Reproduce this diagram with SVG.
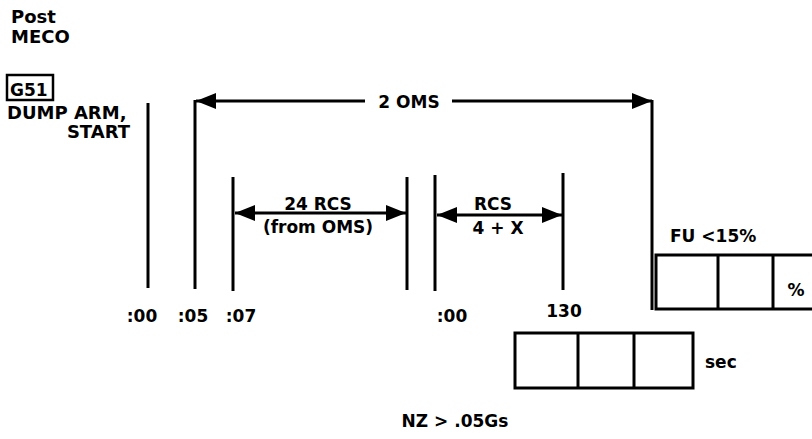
<svg xmlns="http://www.w3.org/2000/svg" width="812" height="439" viewBox="0 0 812 439">
<style>
  text { font-family: "DejaVu Sans", "Liberation Sans", sans-serif; font-weight: bold; font-size: 17px; fill: #000; }
  .big { font-size: 18px; }
  .ln { stroke: #000; stroke-width: 3; fill: none; }
  .box { stroke: #000; stroke-width: 3; fill: #fff; }
  .mid { text-anchor: middle; }
  .end { text-anchor: end; }
</style>
<defs>
  <marker id="ah" markerUnits="userSpaceOnUse" markerWidth="22" markerHeight="16" refX="20" refY="8" orient="auto">
    <path d="M0,0 L20,8 L0,16 Z" fill="#000"/>
  </marker>
</defs>
<rect width="812" height="439" fill="#fff"/>

<g id="header">
  <text x="11" y="23" class="big">Post</text>
  <text x="11" y="43" class="big">MECO</text>
</g>
<g id="g51">
  <rect x="7" y="75" width="46" height="25" fill="none" stroke="#000" stroke-width="2.5"/>
  <text x="10" y="96">G51</text>
  <text x="7" y="119" class="big">DUMP ARM,</text>
  <text x="130" y="138" class="big end">START</text>
</g>

<g id="ticks">
  <line class="ln" x1="148" y1="103" x2="148" y2="288"/>
  <line class="ln" x1="195" y1="100" x2="195" y2="289"/>
  <line class="ln" x1="233" y1="177" x2="233" y2="291"/>
  <line class="ln" x1="407" y1="177" x2="407" y2="290"/>
  <line class="ln" x1="435" y1="175" x2="435" y2="291"/>
  <line class="ln" x1="563" y1="173" x2="563" y2="290"/>
  <line class="ln" x1="652" y1="100" x2="652" y2="310"/>
</g>

<g id="connectors">
  <line class="ln" x1="365" y1="101" x2="196" y2="101" marker-end="url(#ah)"/>
  <line class="ln" x1="452" y1="101" x2="652" y2="101" marker-end="url(#ah)"/>
  <line class="ln" x1="318" y1="213" x2="235" y2="213" marker-end="url(#ah)"/>
  <line class="ln" x1="318" y1="213" x2="406" y2="213" marker-end="url(#ah)"/>
  <line class="ln" x1="498" y1="215" x2="437" y2="215" marker-end="url(#ah)"/>
  <line class="ln" x1="498" y1="215" x2="562" y2="215" marker-end="url(#ah)"/>
</g>

<g id="labels">
  <text x="409" y="108" class="mid">2 OMS</text>
  <text x="318" y="210" class="mid">24 RCS</text>
  <text x="318" y="233" class="mid">(from OMS)</text>
  <text x="493" y="210" class="mid">RCS</text>
  <text x="498" y="234" class="mid">4 + X</text>
  <text x="142" y="322" class="mid">:00</text>
  <text x="193" y="322" class="mid">:05</text>
  <text x="241" y="322" class="mid">:07</text>
  <text x="452" y="322" class="mid">:00</text>
  <text x="564" y="317" class="mid">130</text>
  <text x="455" y="427" class="mid">NZ &gt; .05Gs</text>
</g>

<g id="fu-box">
  <text x="670" y="242">FU &lt;15%</text>
  <rect class="box" x="656" y="255" width="160" height="54"/>
  <line class="ln" x1="718" y1="255" x2="718" y2="309"/>
  <line class="ln" x1="773" y1="255" x2="773" y2="309"/>
  <text x="796" y="296" class="mid">%</text>
</g>

<g id="sec-box">
  <rect class="box" x="515" y="333" width="178" height="55"/>
  <line class="ln" x1="578" y1="333" x2="578" y2="388"/>
  <line class="ln" x1="634" y1="333" x2="634" y2="388"/>
  <text x="705" y="368">sec</text>
</g>
</svg>
